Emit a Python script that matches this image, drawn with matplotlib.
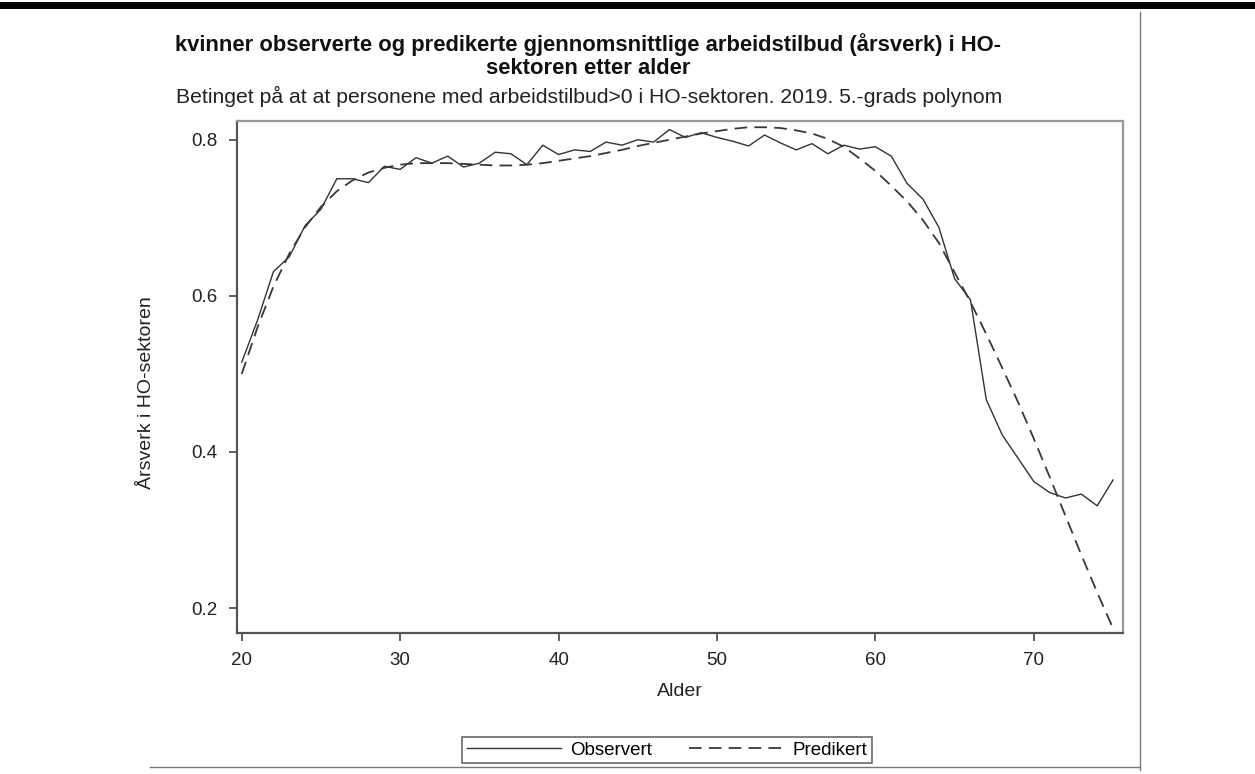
import matplotlib
matplotlib.use("Agg")
import matplotlib.pyplot as plt
from matplotlib.lines import Line2D
from matplotlib.patches import Rectangle

plt.rcParams['font.family'] = ['Liberation Sans', 'DejaVu Sans']

ages = list(range(20, 76))
observert = [0.515, 0.569, 0.631, 0.650, 0.690, 0.711, 0.750, 0.750, 0.745, 0.766,
             0.762, 0.777, 0.770, 0.779, 0.765, 0.770, 0.784, 0.782, 0.768, 0.793,
             0.781, 0.787, 0.785, 0.797, 0.793, 0.800, 0.797, 0.813, 0.803, 0.809,
             0.803, 0.798, 0.792, 0.806, 0.796, 0.787, 0.795, 0.782, 0.793, 0.788,
             0.791, 0.779, 0.744, 0.724, 0.688, 0.622, 0.595, 0.467, 0.422, 0.392,
             0.362, 0.348, 0.341, 0.346, 0.331, 0.364]
predikert = [0.500, 0.560, 0.612, 0.654, 0.688, 0.714, 0.734, 0.748, 0.758, 0.764,
             0.768, 0.770, 0.770, 0.770, 0.769, 0.768, 0.767, 0.767, 0.768, 0.770,
             0.773, 0.776, 0.779, 0.783, 0.787, 0.792, 0.796, 0.800, 0.804, 0.808,
             0.811, 0.814, 0.816, 0.816, 0.815, 0.812, 0.808, 0.801, 0.791, 0.776,
             0.760, 0.741, 0.721, 0.697, 0.668, 0.630, 0.592, 0.551, 0.508, 0.464,
             0.417, 0.368, 0.318, 0.268, 0.220, 0.174]
xticks = [20, 30, 40, 50, 60, 70]
yticks = [0.2, 0.4, 0.6, 0.8]

title1 = "kvinner observerte og predikerte gjennomsnittlige arbeidstilbud (årsverk) i HO-"
title2 = "sektoren etter alder"
subtitle = "Betinget på at at personene med arbeidstilbud>0 i HO-sektoren. 2019. 5.-grads polynom"

W, H = 1255, 774
fig = plt.figure(figsize=(W / 100, H / 100), dpi=100)
ax = fig.add_axes([237 / W, 1 - 633 / H, (1123 - 237) / W, (633 - 121) / H])

ax.plot(ages, observert, color='#333333', lw=1.0, label='Observert')
ax.plot(ages, predikert, color='#383838', lw=1.3, dashes=(7, 4), label='Predikert')

ax.set_xlim(19.7, 75.63)
ax.set_ylim(0.168, 0.824)
ax.set_xticks(xticks)
ax.set_xticklabels([str(t) for t in xticks])
ax.set_yticks(yticks)
ax.set_yticklabels([f"{t:.1f}" for t in yticks])
for s in ax.spines.values():
    s.set_color('#555555')
    s.set_linewidth(1.6)
ax.spines['top'].set_color('#999999')
ax.spines['right'].set_color('#999999')
ax.tick_params(direction='out', length=6, width=1.2, color='#444444',
               labelsize=13.5, labelcolor='#222222')
ax.tick_params(axis='x', pad=8)
ax.tick_params(axis='y', pad=8)
ax.set_xlabel('Alder', fontsize=14, labelpad=10, color='#222222')
ax.set_ylabel('Årsverk i HO-sektoren', fontsize=14, color='#222222')
ax.yaxis.set_label_coords((155 - 237) / 886, (633 - 393) / 512)

fig.text(588 / W, 1 - 45 / H, title1, ha='center', va='center', fontsize=15.8,
         fontweight='bold', color='#111111')
fig.text(588 / W, 1 - 68 / H, title2, ha='center', va='center', fontsize=15.8,
         fontweight='bold', color='#111111')
fig.text(589 / W, 1 - 96 / H, subtitle, ha='center', va='center', fontsize=15.2,
         color='#222222')

leg = fig.legend(loc='center', bbox_to_anchor=(667 / W, 1 - 750 / H), ncol=2,
                 frameon=True, fancybox=False, fontsize=13.5, handlelength=5.0,
                 handletextpad=0.5, columnspacing=2.0, borderpad=0.25,
                 edgecolor='#444444')
leg.get_frame().set_linewidth(1.2)

# page frame artifacts
fig.add_artist(Rectangle((0, 1 - 9 / H), 1, 7 / H, transform=fig.transFigure,
                         color='black', lw=0))
fig.add_artist(Line2D([1140 / W, 1140 / W], [1 - 12 / H, 1 - 770 / H],
                      transform=fig.transFigure, color='#777777', lw=1.0))
fig.add_artist(Line2D([150 / W, 1140 / W], [1 - 767 / H, 1 - 767 / H],
                      transform=fig.transFigure, color='#777777', lw=1.0))

fig.savefig('out.png', dpi=100)
